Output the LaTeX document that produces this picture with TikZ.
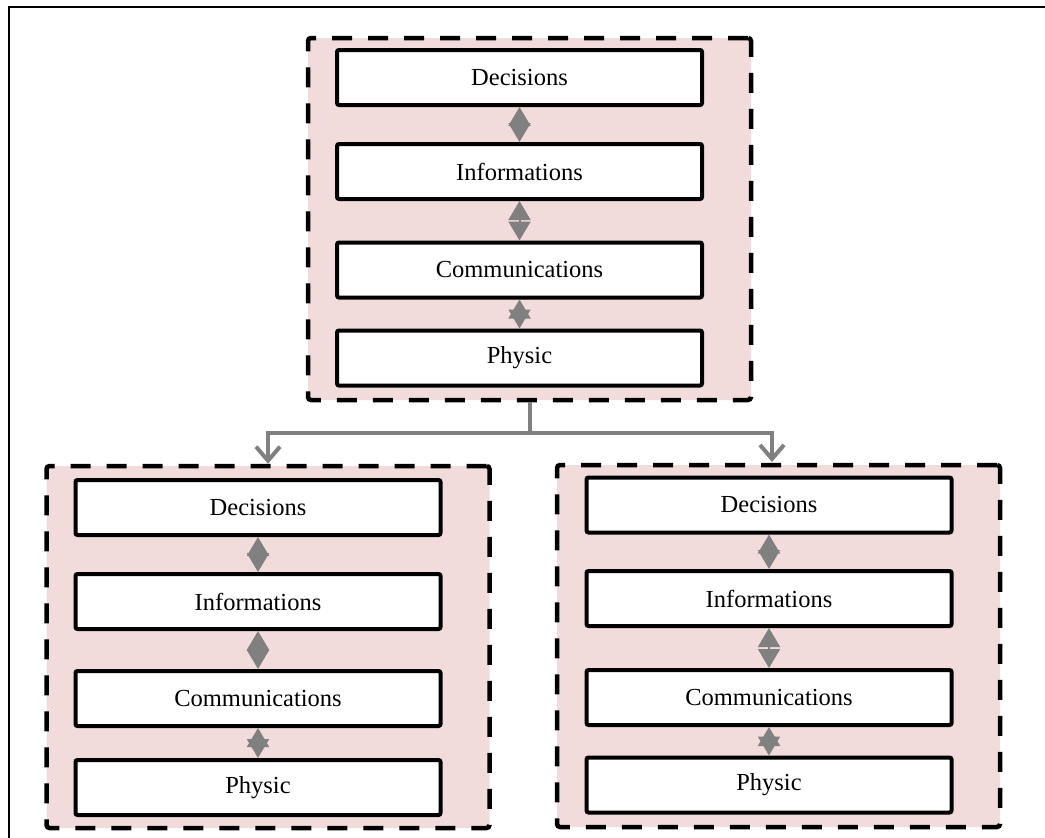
\documentclass[tikz,border=0pt]{standalone}
\usepackage{fontspec}
\setmainfont{Liberation Serif}
\usetikzlibrary{arrows.meta}
\definecolor{pinkfill}{RGB}{242,220,219}
\definecolor{conngray}{RGB}{128,128,128}
\begin{document}
\begin{tikzpicture}[x=1pt,y=-1pt,
  layerbox/.style={draw, line width=4pt, fill=white, rounded corners=2pt,
    minimum width=365pt, minimum height=55pt, inner sep=0pt,
    font=\fontsize{24.5}{27}\selectfont},
  groupbox/.style={draw, line width=4.5pt, dash pattern=on 20pt off 16pt,
    fill=pinkfill, rounded corners=3pt, minimum width=443pt, minimum height=362pt, inner sep=0pt},
  link/.style={draw=conngray, line width=2pt,
    {Triangle[length=19pt,width=22pt]}-{Triangle[length=19pt,width=22pt]}},
  tree/.style={draw=conngray, line width=4pt},
  treearrow/.style={tree, -{Straight Barb[length=14pt,width=24pt]}}]
\useasboundingbox (0,0) rectangle (1045,838);
\draw[line width=1.5pt] (9,838) -- (9,7) -- (1045,7);

% groups
\node[groupbox] (top) at (529.5,219) {};
\node[groupbox] (bl) at (268,647) {};
\node[groupbox] (br) at (778.5,646) {};

% top group layers
\node[layerbox] (tD) at (519.5,77.5) {Decisions};
\node[layerbox] (tI) at (519.5,171.5) {Informations};
\node[layerbox] (tC) at (519.5,270) {Communications};
\node[layerbox] (tP) at (519.5,358) {Physic};

% bottom-left layers
\node[layerbox] (lD) at (258,507.5) {Decisions};
\node[layerbox] (lI) at (258,601.5) {Informations};
\node[layerbox] (lC) at (258,698.5) {Communications};
\node[layerbox] (lP) at (258,787.5) {Physic};

% bottom-right layers
\node[layerbox] (rD) at (769,505) {Decisions};
\node[layerbox] (rI) at (769,598.5) {Informations};
\node[layerbox] (rC) at (769,697.5) {Communications};
\node[layerbox] (rP) at (769,785) {Physic};

% links between layers
\foreach \g in {t,l,r}{
  \draw[link] (\g D.south) -- (\g I.north);
  \draw[link] (\g I.south) -- (\g C.north);
  \draw[link] (\g C.south) -- (\g P.north);
}

% tree connectors
\coordinate (j) at (top.south |- 0,433);
\coordinate (brin) at (772,462);
\draw[tree] (top.south) -- (j);
\draw[treearrow] (j) -| (bl.north);
\draw[treearrow] (j) -| (brin);
\end{tikzpicture}
\end{document}
